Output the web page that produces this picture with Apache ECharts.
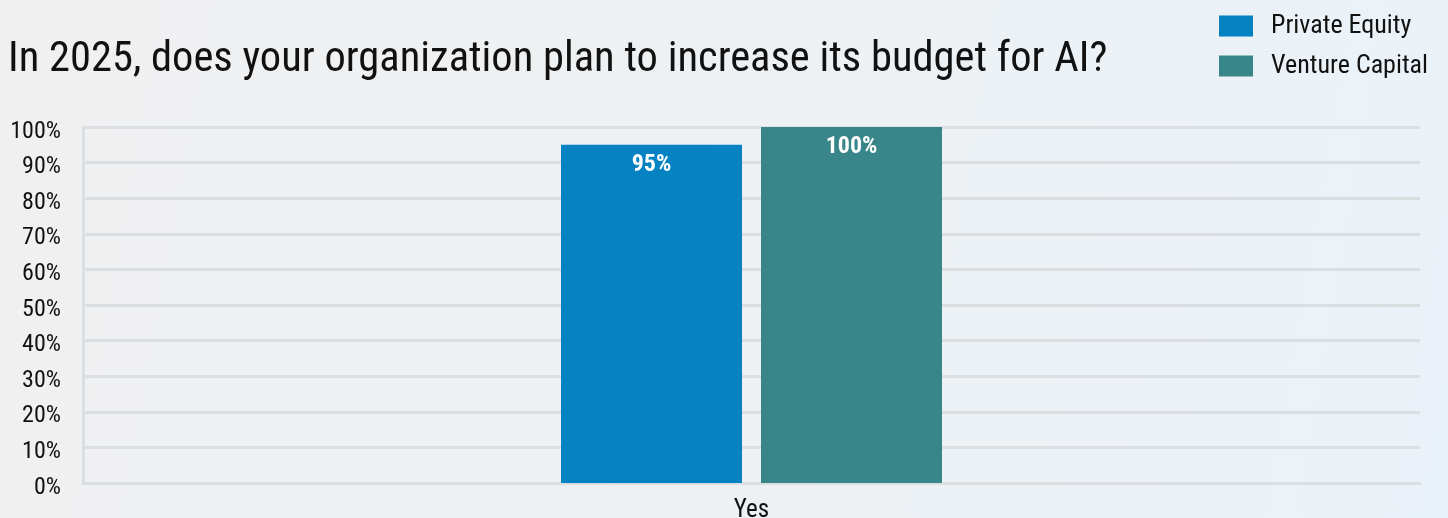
<!DOCTYPE html>
<html>
<head>
<meta charset="utf-8">
<script src="https://cdn.jsdelivr.net/npm/echarts@6/dist/echarts.min.js"></script>
<style>
  html, body { margin: 0; padding: 0; }
  body {
    width: 1448px; height: 518px; overflow: hidden;
    background: linear-gradient(100deg, #f0f0f1 0%, #eef1f3 45%, #eaf2f9 100%);
  }
  #chart { width: 1448px; height: 518px; }
</style>
</head>
<body>
<div id="chart"></div>
<script>
// Survey answer categories and per-segment shares (%)
const categories = ['Yes'];
const privateEquity = [95];
const ventureCapital = [100];
const seriesNames = ['Private Equity', 'Venture Capital'];
const titleText = 'In 2025, does your organization plan to increase its budget for AI?';

const FONT = '"Roboto Condensed", "Liberation Sans Narrow", Roboto, sans-serif';
const GRID_COLOR = '#dcdfe1';

const chart = echarts.init(document.getElementById('chart'), null, { renderer: 'canvas' });

const barLabel = {
  show: true,
  position: 'insideTop',
  distance: 8,
  formatter: '{c}%',
  color: '#ffffff',
  fontFamily: FONT,
  fontWeight: 'bold',
  fontSize: 24
};

chart.setOption({
  backgroundColor: 'transparent',
  animation: false,
  title: {
    text: titleText,
    left: 3,
    top: 34,
    textStyle: { fontFamily: FONT, fontWeight: 'normal', fontSize: 42.5, color: '#111111' }
  },
  legend: {
    data: seriesNames,
    orient: 'vertical',
    left: 1214,
    top: 8,
    itemWidth: 34,
    itemHeight: 21,
    itemGap: 14,
    icon: 'rect',
    textStyle: { fontFamily: FONT, fontSize: 26, color: '#111111', padding: [0, 0, 0, 13] }
  },
  grid: { left: 83, right: 28, top: 127, bottom: 35, containLabel: false, outerBoundsMode: 'none' },
  xAxis: {
    type: 'category',
    data: categories,
    axisTick: { show: false },
    axisLine: { show: true, lineStyle: { color: GRID_COLOR, width: 3 } },
    axisLabel: { fontFamily: FONT, fontSize: 25, color: '#111111', margin: 15 }
  },
  yAxis: {
    type: 'value',
    min: 0,
    max: 100,
    interval: 10,
    axisLine: { show: true, lineStyle: { color: GRID_COLOR, width: 3 } },
    axisTick: { show: false },
    splitLine: { show: true, lineStyle: { color: GRID_COLOR, width: 3 } },
    axisLabel: {
      formatter: '{value}%', fontFamily: FONT, fontSize: 24, color: '#111111',
      margin: 22, verticalAlign: 'top', lineHeight: 9
    }
  },
  series: [
    {
      name: seriesNames[0],
      type: 'bar',
      data: privateEquity,
      barWidth: 181,
      barGap: '10.5%',
      itemStyle: { color: '#0582c1' },
      label: barLabel
    },
    {
      name: seriesNames[1],
      type: 'bar',
      data: ventureCapital,
      barWidth: 181,
      itemStyle: { color: '#39868a' },
      label: barLabel
    }
  ]
});
</script>
</body>
</html>
